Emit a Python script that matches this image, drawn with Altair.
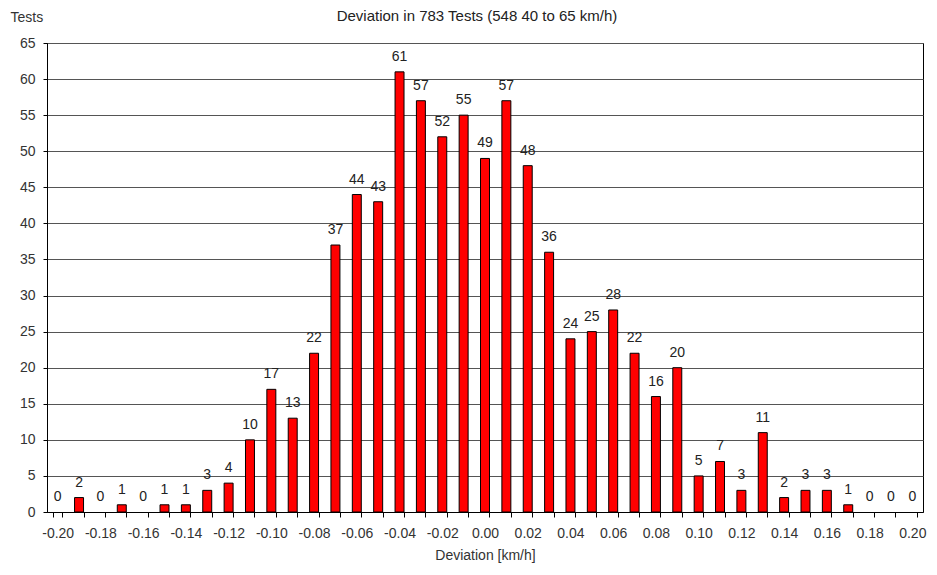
import altair as alt
import pandas as pd

deviation = [-0.20, -0.19, -0.18, -0.17, -0.16, -0.15, -0.14, -0.13, -0.12, -0.11,
             -0.10, -0.09, -0.08, -0.07, -0.06, -0.05, -0.04, -0.03, -0.02, -0.01,
             0.00, 0.01, 0.02, 0.03, 0.04, 0.05, 0.06, 0.07, 0.08, 0.09,
             0.10, 0.11, 0.12, 0.13, 0.14, 0.15, 0.16, 0.17, 0.18, 0.19, 0.20]
tests = [0, 2, 0, 1, 0, 1, 1, 3, 4, 10,
         17, 13, 22, 37, 44, 43, 61, 57, 52, 55,
         49, 57, 48, 36, 24, 25, 28, 22, 16, 20,
         5, 7, 3, 11, 2, 3, 3, 1, 0, 0, 0]

labels = [f"{d:.2f}" for d in deviation]
df = pd.DataFrame({"dev": labels, "tests": tests})

FONT = "Liberation Sans"

x = alt.X("dev:O", sort=labels,
          scale=alt.Scale(paddingInner=0.58, paddingOuter=0.29),
          axis=alt.Axis(title="Deviation [km/h]", labelAngle=0, tickBand="extent",
                        labelExpr="round(toNumber(datum.value)*100) % 2 == 0 ? datum.value : ''",
                        labelFontSize=14, labelColor="#333", labelFont=FONT,
                        tickSize=5, tickColor="#000", domainColor="#000",
                        labelPadding=9, titleFontSize=14, titleFont=FONT,
                        titleFontWeight="normal", titleColor="#333", titlePadding=8,
                        labelOverlap=False))
y = alt.Y("tests:Q",
          scale=alt.Scale(domain=[0, 65], nice=False),
          axis=alt.Axis(title="Tests", values=list(range(0, 66, 5)), titleAngle=0,
                        titleX=-37, titleY=-26, titleAlign="left", titleBaseline="middle",
                        titleFontSize=14, titleFont=FONT, titleFontWeight="normal",
                        titleColor="#333", labelFontSize=14, labelFont=FONT,
                        labelColor="#333", tickSize=4, tickColor="#000",
                        domainColor="#000", labelPadding=8,
                        grid=True, gridColor="#555", gridWidth=1))

bars = alt.Chart(df).mark_bar(color="#ff0000", stroke="#000", strokeWidth=1).encode(
    x=x, y=y,
    strokeOpacity=alt.condition("datum.tests > 0", alt.value(1), alt.value(0)))
text = alt.Chart(df).mark_text(baseline="bottom", dy=-8, fontSize=14, font=FONT,
                               color="#222").encode(x=x, y=y, text="tests:Q")

chart = (bars + text).properties(
    width=876, height=469,
    title=alt.TitleParams("Deviation in 783 Tests (548 40 to 65 km/h)", fontSize=15,
                          font=FONT, fontWeight="normal", color="#222", dx=-8, offset=-14),
    autosize=alt.AutoSizeParams(type="none"),
    padding={"left": 39, "top": 35, "right": 6, "bottom": 52},
).configure_view(stroke="#000", strokeWidth=1)

chart.save("out.html", embed_options={"renderer": "svg", "actions": False})
